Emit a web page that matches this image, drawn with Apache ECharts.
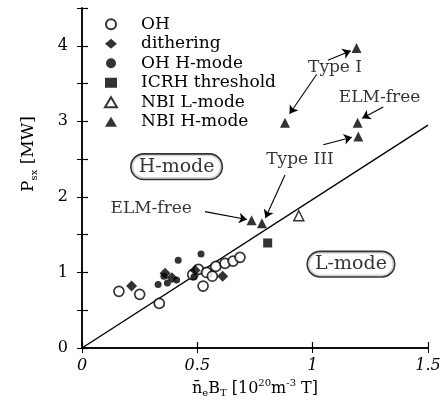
<!DOCTYPE html>
<html><head><meta charset="utf-8">
<script src="https://cdn.jsdelivr.net/npm/echarts@6/dist/echarts.min.js"></script>
<style>html,body{margin:0;padding:0;background:#fff}#c{width:444px;height:409px}</style>
</head><body><div id="c"></div>
<script>
// ---- data (x: n_e B_T [1e20 m^-3 T], y: P [MW]) ----
const ohData = [[0.16,0.75],[0.25,0.71],[0.335,0.59],[0.48,0.97],[0.505,1.04],[0.525,0.82],[0.54,1.00],[0.565,0.95],[0.58,1.08],[0.62,1.12],[0.655,1.15],[0.685,1.20]];
const ditheringData = [[0.215,0.82],[0.36,0.99],[0.39,0.93],[0.49,1.03],[0.61,0.95]];
const ohHmodeData = [[0.417,1.16],[0.516,1.245],[0.33,0.84],[0.37,0.86],[0.41,0.90],[0.355,0.95],[0.485,0.94]];
const icrhData = [[0.805,1.39]];
const nbiLData = [[0.94,1.75]];
const nbiHData = [[1.19,3.97],[0.88,2.98],[1.195,2.98],[1.198,2.80],[0.735,1.69],[0.78,1.65]];
const fitLine = [[0,0],[1.5,2.95]];
const xTicks = [0,0.5,1,1.5];
const yTicks = [0,1,2,3,4];
const annotTexts = [
  {name:'Type I', value:[1.097,3.71]},
  {name:'ELM-free', value:[1.29,3.31]},
  {name:'Type III', value:[0.945,2.49]},
  {name:'ELM-free', value:[0.30,1.85]}
];
const annotArrows = [
  [[1.066,3.81],[1.165,3.935]],
  [[1.017,3.62],[0.90,3.10]],
  [[1.306,3.19],[1.215,3.04]],
  [[1.046,2.69],[1.17,2.79]],
  [[0.88,2.29],[0.795,1.72]],
  [[0.533,1.805],[0.715,1.70]]
];
const regionBoxes = [
  {name:'H-mode', value:[0.41,2.40]},
  {name:'L-mode', value:[1.166,1.11]}
];

const SERIF = '"DejaVu Serif", "Liberation Serif", serif';
const INK = '#000';
const chart = echarts.init(document.getElementById('c'), null, {renderer:'canvas'});
const tickFmt = v => (yTicks.indexOf(v) >= 0 ? String(v) : '');
const xFmt = v => (xTicks.indexOf(v) >= 0 ? String(v) : '');

chart.setOption({
  animation: false,
  backgroundColor: '#fff',
  grid: {left: 82, right: 16, top: 8, bottom: 61, containLabel: false},
  legend: {
    orient: 'vertical', left: 99, top: 10, itemWidth: 12, itemHeight: 10, itemGap: 1,
    data: ['OH','dithering','OH H-mode','ICRH threshold','NBI L-mode','NBI H-mode'],
    textStyle: {fontFamily: SERIF, fontSize: 17, color: INK, lineHeight: 18.5, padding: [0,0,0,19]}
  },
  xAxis: [{
    type: 'value', min: 0, max: 1.5, interval: 0.5,
    axisLine: {show: true, onZero: false, lineStyle: {color: INK, width: 1.5}},
    axisTick: {show: true, inside: true, length: 6, lineStyle: {color: INK, width: 1.2}},
    splitLine: {show: false},
    axisLabel: {formatter: xFmt, fontFamily: SERIF, fontStyle: 'italic', fontSize: 16, color: INK, margin: 10, showMaxLabel: true, showMinLabel: true},
    name: '{n|n\u0304}{sub|e}{n|B}{sub|T}{n| [10}{sup|20}{n|m}{sup|-3}{n| T]}',
    nameLocation: 'middle', nameGap: 26,
    nameTextStyle: {
      color: INK,
      rich: {
        n: {fontFamily: SERIF, fontSize: 16, color: INK},
        sub: {fontFamily: SERIF, fontSize: 10, color: INK, padding: [10,0,0,0]},
        sup: {fontFamily: SERIF, fontSize: 10, color: INK, padding: [0,0,9,0]}
      }
    }
  },{
    type: 'value', position: 'top', min: 0, max: 1.5, interval: 0.5,
    axisLine: {show: true, lineStyle: {color: INK, width: 1.5}},
    axisTick: {show: true, inside: true, length: 5, lineStyle: {color: INK}},
    axisLabel: {show: false}, splitLine: {show: false}
  }],
  yAxis: [{
    type: 'value', min: 0, max: 4.5, interval: 0.5,
    axisLine: {show: true, onZero: false, lineStyle: {color: INK, width: 1.5}},
    axisTick: {show: true, inside: true, length: 6, lineStyle: {color: INK, width: 1.2}},
    splitLine: {show: false},
    axisLabel: {formatter: tickFmt, fontFamily: SERIF, fontSize: 16, color: INK, margin: 14},
    name: '{n|P}{sub|sx}{n| [MW]}',
    nameLocation: 'middle', nameRotate: 90, nameGap: 43,
    nameTextStyle: {
      color: INK, padding: [0,0,0,48],
      rich: {
        n: {fontFamily: SERIF, fontSize: 17, color: INK},
        sub: {fontFamily: SERIF, fontSize: 10, color: INK, padding: [10,0,0,0]}
      }
    }
  },{
    type: 'value', position: 'right', min: 0, max: 4.5, interval: 0.5,
    axisLine: {show: true, lineStyle: {color: INK, width: 1.5}},
    axisTick: {show: true, inside: true, length: 5, lineStyle: {color: INK}},
    axisLabel: {show: false}, splitLine: {show: false}
  }],
  series: [
    {type: 'line', name: 'fit', data: fitLine, symbol: 'none', silent: true, z: 1,
     lineStyle: {color: INK, width: 1.4}},
    {type: 'scatter', name: 'OH', data: ohData, symbol: 'circle', symbolSize: 10, z: 3,
     itemStyle: {color: '#fff', borderColor: INK, borderWidth: 1.7}},
    {type: 'scatter', name: 'dithering', data: ditheringData, symbol: 'diamond', symbolSize: 11, z: 4,
     itemStyle: {color: INK}},
    {type: 'scatter', name: 'OH H-mode', data: ohHmodeData, symbol: 'circle', symbolSize: 7, z: 4,
     itemStyle: {color: INK}},
    {type: 'scatter', name: 'ICRH threshold', data: icrhData, symbol: 'rect', symbolSize: 9, z: 4,
     itemStyle: {color: INK}},
    {type: 'scatter', name: 'NBI L-mode', data: nbiLData, symbol: 'triangle', symbolSize: 10, z: 4,
     itemStyle: {color: '#fff', borderColor: INK, borderWidth: 1.5}},
    {type: 'scatter', name: 'NBI H-mode', data: nbiHData, symbol: 'triangle', symbolSize: 10, z: 4,
     itemStyle: {color: INK}},
    {type: 'scatter', name: 'annot', data: annotTexts, symbolSize: 0, silent: true, z: 5,
     label: {show: true, position: 'inside', formatter: p => p.name, fontFamily: SERIF, fontSize: 17, color: INK},
     markLine: {
       silent: true, symbol: ['none','arrow'], symbolSize: 8, animation: false,
       label: {show: false},
       lineStyle: {color: INK, width: 1.1, type: 'solid'},
       data: annotArrows.map(a => [{coord: a[0]}, {coord: a[1]}])
     }},
    {type: 'scatter', name: 'regions', data: regionBoxes, symbolSize: 0, silent: true, z: 5,
     label: {show: true, position: 'inside', formatter: p => p.name, fontFamily: SERIF, fontSize: 19,
       color: INK, borderColor: INK, borderWidth: 1.6, borderRadius: 13, padding: [3,7,2,7], backgroundColor: '#fff'}}
  ]
});
</script></body></html>
